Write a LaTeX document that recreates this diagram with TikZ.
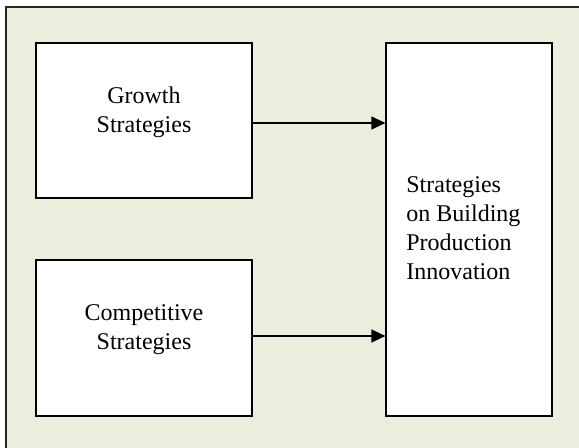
\documentclass[tikz,border=0pt]{standalone}
\usepackage{fontspec}
\setmainfont{Liberation Serif}
\usepackage{xcolor}
\usetikzlibrary{arrows.meta, calc}

\definecolor{panelgreen}{RGB}{233,239,220}

\tikzset{
    box/.style={draw=black, fill=white, line width=0.6pt, rectangle, inner sep=0pt},
    txt/.style={font=\fontsize{12}{14.5}\selectfont, inner sep=0pt},
    arr/.style={line width=0.6pt, -{Triangle[length=7pt, width=6.5pt]}}
}

\begin{document}
\begin{tikzpicture}[x=0.5pt, y=-0.5pt]
                        \useasboundingbox (0, 0) rectangle (579, 448);
                        \clip (0, 0) rectangle (579, 448);
                        \draw[fill=panelgreen, draw=black!85, line width=0.8pt] (6, 7) rectangle (600, 470);

                        \node[box, minimum width=108pt, minimum height=77.5pt] (growth) at (144, 120.5) {};
                        \node[box, minimum width=108pt, minimum height=78pt] (compet) at (144, 338) {};
                        \node[box, minimum width=83pt, minimum height=186.5pt] (innov) at (469, 229.5) {};

                        \node[txt, align=center] (growthtxt) at ($(growth.center) + (0, -8)$) {Growth\\Strategies};
                        \node[txt, align=center] (compettxt) at ($(compet.center) + (0, -8)$) {Competitive\\Strategies};
                        \node[txt, align=left, anchor=north west] (innovtxt) at (406, 176) {Strategies\\on Building\\Production\\Innovation};

                        \coordinate (in1) at (innov.west |- 0, 123);
                        \coordinate (in2) at (innov.west |- 0, 336);
                        \draw[arr] (growth.east |- in1) -- (in1);
                        \draw[arr] (compet.east |- in2) -- (in2);
                    \end{tikzpicture}
\end{document}
